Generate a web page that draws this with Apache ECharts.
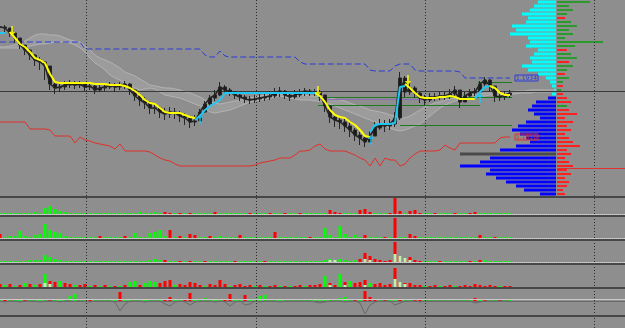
<!DOCTYPE html>
<html><head><meta charset="utf-8">
<script src="https://cdn.jsdelivr.net/npm/echarts@6/dist/echarts.min.js"></script>
<style>html,body{margin:0;padding:0;background:#8e8e8e;overflow:hidden}#c{width:625px;height:328px}</style>
</head><body><div id="c"></div><script>
// ---------- DATA (bar index = one time step) ----------
const close = [1.2036,1.2034,1.2024,1.2014,1.2000,1.1990,1.1980,1.1970,1.1966,1.1958,
 1.1922,1.1914,1.1916,1.1920,1.1922,1.1920,1.1922,1.1916,1.1918,1.1910,
 1.1914,1.1916,1.1920,1.1916,1.1918,1.1922,1.1910,1.1898,1.1890,1.1884,
 1.1874,1.1874,1.1866,1.1862,1.1866,1.1864,1.1858,1.1854,1.1846,1.1848,
 1.1866,1.1882,1.1894,1.1900,1.1916,1.1910,1.1906,1.1900,1.1896,1.1892,
 1.1890,1.1892,1.1894,1.1896,1.1898,1.1904,1.1908,1.1900,1.1896,1.1900,
 1.1904,1.1908,1.1906,1.1906,1.1900,1.1878,1.1856,1.1850,1.1846,1.1838,
 1.1830,1.1820,1.1814,1.1806,1.1818,1.1834,1.1840,1.1838,1.1842,1.1854,
 1.1934,1.1906,1.1914,1.1904,1.1894,1.1890,1.1896,1.1896,1.1898,1.1898,
 1.1902,1.1910,1.1886,1.1898,1.1904,1.1906,1.1922,1.1930,1.1918,1.1898,
 1.1896,1.1900,1.1904];
const high = [1.2044,1.2040,1.2034,1.2024,1.2012,1.2000,1.1992,1.1982,1.1976,1.1968,
 1.1940,1.1926,1.1926,1.1928,1.1930,1.1928,1.1928,1.1924,1.1924,1.1920,
 1.1922,1.1924,1.1926,1.1924,1.1926,1.1928,1.1924,1.1912,1.1902,1.1896,
 1.1888,1.1884,1.1878,1.1874,1.1876,1.1874,1.1868,1.1864,1.1858,1.1860,
 1.1872,1.1888,1.1900,1.1910,1.1926,1.1920,1.1914,1.1908,1.1904,1.1900,
 1.1898,1.1900,1.1902,1.1904,1.1908,1.1914,1.1916,1.1910,1.1904,1.1910,
 1.1912,1.1914,1.1912,1.1912,1.1910,1.1896,1.1874,1.1862,1.1858,1.1852,
 1.1846,1.1834,1.1826,1.1820,1.1828,1.1846,1.1852,1.1850,1.1852,1.1866,
 1.1946,1.1938,1.1926,1.1918,1.1906,1.1900,1.1904,1.1904,1.1906,1.1906,
 1.1912,1.1918,1.1904,1.1906,1.1912,1.1914,1.1928,1.1936,1.1932,1.1912,
 1.1906,1.1908,1.1910];
const low = [1.2028,1.2024,1.2016,1.2004,1.1992,1.1980,1.1970,1.1958,1.1950,1.1930,
 1.1910,1.1902,1.1906,1.1910,1.1914,1.1912,1.1914,1.1908,1.1910,1.1902,
 1.1906,1.1908,1.1912,1.1906,1.1910,1.1912,1.1900,1.1888,1.1878,1.1872,
 1.1862,1.1862,1.1854,1.1850,1.1854,1.1852,1.1846,1.1840,1.1834,1.1838,
 1.1850,1.1864,1.1878,1.1888,1.1898,1.1900,1.1898,1.1892,1.1888,1.1884,
 1.1882,1.1884,1.1886,1.1888,1.1890,1.1894,1.1896,1.1892,1.1888,1.1892,
 1.1896,1.1898,1.1898,1.1898,1.1888,1.1866,1.1844,1.1836,1.1832,1.1826,
 1.1816,1.1808,1.1800,1.1796,1.1806,1.1820,1.1830,1.1826,1.1830,1.1836,
 1.1850,1.1896,1.1900,1.1894,1.1884,1.1880,1.1886,1.1888,1.1890,1.1890,
 1.1892,1.1898,1.1874,1.1888,1.1896,1.1898,1.1904,1.1916,1.1906,1.1886,
 1.1888,1.1890,1.1894];
const trailUp = [1.2024,1.2024,null,null,null,null,null,null,null,null,
 null,null,null,null,null,null,null,null,null,null,
 null,null,null,null,null,null,null,null,null,null,
 null,null,null,null,null,null,null,null,null,1.1850,
 1.1858,1.1870,1.1878,1.1884,1.1890,1.1904,1.1904,1.1904,1.1904,1.1904,
 1.1904,1.1904,1.1904,1.1904,1.1904,1.1904,1.1904,1.1904,1.1904,1.1904,
 1.1904,1.1904,1.1904,1.1904,null,null,null,null,null,null,
 null,null,null,null,1.1826,1.1840,1.1842,1.1842,1.1842,1.1844,
 1.1916,1.1918,null,null,null,null,null,null,null,null,
 null,null,null,null,null,1.1892,1.1906,1.1916,1.1918,null,
 null,null,null];
const trailDn = [null,null,1.2026,1.2014,1.2002,1.1996,1.1986,1.1974,1.1970,1.1964,
 1.1942,1.1926,1.1924,1.1924,1.1924,1.1924,1.1924,1.1924,1.1924,1.1922,
 1.1922,1.1922,1.1920,1.1920,1.1920,1.1918,1.1914,1.1908,1.1900,1.1890,
 1.1884,1.1882,1.1874,1.1866,1.1864,1.1864,1.1864,1.1860,1.1856,1.1854,
 null,null,null,null,null,null,null,null,null,null,
 null,null,null,null,null,null,null,null,null,null,
 null,null,null,1.1904,1.1898,1.1886,1.1870,1.1860,1.1856,1.1854,
 1.1846,1.1840,1.1830,1.1818,1.1816,null,null,null,null,null,
 null,1.1922,1.1914,1.1904,1.1896,1.1894,1.1894,1.1894,1.1896,1.1896,
 1.1898,1.1896,1.1892,1.1892,1.1892,1.1892,null,null,1.1918,1.1914,
 1.1904,1.1900,1.1900];
const sellArrows = [[2.4,1.2028],[63.6,1.1908],[81.6,1.1930]];
const buyArrows  = [[40,1.1852],[74.2,1.1810],[96,1.1894]];
const upperBand = [1.2006,1.2006,1.2006,1.2006,1.2006,1.2006,1.2006,1.2006,1.2006,1.2006,
 1.2006,1.2006,1.2006,1.2006,1.2006,1.2006,1.2006,1.1992,1.1992,1.1992,
 1.1992,1.1992,1.1992,1.1992,1.1992,1.1992,1.1992,1.1992,1.1992,1.1992,
 1.1992,1.1992,1.1992,1.1992,1.1992,1.1992,1.1992,1.1992,1.1992,1.1992,
 1.1992,1.1980,1.1976,1.1976,1.1988,1.1978,1.1976,1.1976,1.1976,1.1976,
 1.1976,1.1976,1.1976,1.1976,1.1976,1.1976,1.1976,1.1976,1.1976,1.1976,
 1.1966,1.1962,1.1962,1.1962,1.1962,1.1962,1.1962,1.1962,1.1962,1.1962,
 1.1962,1.1962,1.1962,1.1962,1.1950,1.1948,1.1948,1.1948,1.1948,1.1958,
 1.1962,1.1962,1.1962,1.1950,1.1948,1.1948,1.1948,1.1948,1.1948,1.1948,
 1.1948,1.1948,1.1946,1.1934,1.1934,1.1934,1.1934,1.1934,1.1934,1.1934,
 1.1934,1.1934,1.1934];
const lowerBand = [1.1846,1.1846,1.1846,1.1846,1.1846,1.1846,1.1832,1.1832,1.1832,1.1832,
 1.1830,1.1818,1.1818,1.1818,1.1818,1.1804,1.1816,1.1810,1.1808,1.1804,
 1.1802,1.1800,1.1798,1.1792,1.1802,1.1788,1.1788,1.1788,1.1788,1.1788,
 1.1786,1.1780,1.1774,1.1770,1.1768,1.1762,1.1758,1.1758,1.1758,1.1758,
 1.1758,1.1758,1.1758,1.1758,1.1758,1.1758,1.1758,1.1758,1.1758,1.1758,
 1.1758,1.1760,1.1764,1.1766,1.1768,1.1770,1.1774,1.1774,1.1774,1.1780,
 1.1788,1.1788,1.1790,1.1798,1.1802,1.1792,1.1788,1.1788,1.1788,1.1788,
 1.1784,1.1780,1.1774,1.1770,1.1758,1.1774,1.1758,1.1774,1.1770,1.1770,
 1.1758,1.1762,1.1774,1.1782,1.1788,1.1788,1.1788,1.1788,1.1790,1.1800,
 1.1794,1.1790,1.1804,1.1804,1.1804,1.1804,1.1804,1.1804,1.1804,1.1804,
 1.1814,1.1816,1.1816];
const cloudHi = [1.1996,1.1996,1.1998,1.2000,1.2004,1.2008,1.2014,1.2020,1.2022,1.2022,
 1.2020,1.2020,1.2018,1.2014,1.2010,1.2008,1.2006,1.1998,1.1990,1.1980,
 1.1974,1.1970,1.1966,1.1960,1.1954,1.1946,1.1942,1.1938,1.1932,1.1926,
 1.1920,1.1918,1.1916,1.1914,1.1914,1.1912,1.1910,1.1906,1.1904,1.1900,
 1.1896,1.1890,1.1886,1.1884,1.1882,1.1884,1.1886,1.1888,1.1890,1.1892,
 1.1894,1.1896,1.1898,1.1900,1.1900,1.1902,1.1902,1.1902,1.1900,1.1900,
 1.1900,1.1900,1.1898,1.1898,1.1896,1.1896,1.1894,1.1892,1.1890,1.1888,
 1.1884,1.1880,1.1878,1.1874,1.1870,1.1868,1.1866,1.1864,1.1860,1.1858,
 1.1854,1.1854,1.1858,1.1864,1.1870,1.1876,1.1880,1.1884,1.1886,1.1890,
 1.1892,1.1894,1.1896,1.1898,1.1900,1.1902,1.1902,1.1904,1.1904,1.1906,
 1.1906,1.1906,1.1906,1.1908,1.1908,1.1908,1.1910,1.1910,1.1910,1.1910,
 1.1910,1.1910];
const cloudLo = [1.1994,1.1994,1.1994,1.1994,1.1994,1.1996,1.1998,1.2000,1.2002,1.2002,
 1.2004,1.2006,1.2006,1.2006,1.2004,1.2000,1.1994,1.1986,1.1974,1.1964,
 1.1958,1.1950,1.1940,1.1934,1.1930,1.1924,1.1920,1.1914,1.1910,1.1912,
 1.1914,1.1912,1.1906,1.1900,1.1898,1.1896,1.1894,1.1890,1.1886,1.1882,
 1.1878,1.1872,1.1866,1.1864,1.1866,1.1868,1.1870,1.1874,1.1878,1.1882,
 1.1886,1.1888,1.1890,1.1892,1.1894,1.1896,1.1898,1.1896,1.1894,1.1892,
 1.1890,1.1890,1.1890,1.1888,1.1888,1.1886,1.1882,1.1878,1.1874,1.1870,
 1.1866,1.1862,1.1858,1.1854,1.1850,1.1846,1.1842,1.1838,1.1834,1.1830,
 1.1828,1.1830,1.1834,1.1838,1.1842,1.1850,1.1858,1.1866,1.1874,1.1880,
 1.1884,1.1888,1.1890,1.1892,1.1894,1.1896,1.1898,1.1898,1.1900,1.1900,
 1.1900,1.1902,1.1902,1.1902,1.1904,1.1904,1.1904,1.1906,1.1906,1.1906,
 1.1906,1.1908];
const lastPrice = 1.1908;
const sessionBreaks = [17.2, 51.2, 85.0, 118.8];
// level segments: [price, fromIndex, toIndex]
const greenLevels  = [[1.1896,63.6,102.4],[1.1880,63.6,96],[1.1840,80,102.4],[1.1926,95.6,102.4]];
const purpleLevels = [[1.1892,64,86]];
const salmonLevels = [[1.1906,46,63]];
const redLevels    = [[1.1754,111.4,125]];
// volume profile
const profLevels = ['1.2086','1.2078','1.2070','1.2062','1.2054','1.2046','1.2038','1.2030','1.2022','1.2014',
 '1.2006','1.1998','1.1990','1.1982','1.1974','1.1966','1.1958','1.1950','1.1942','1.1934',
 '1.1926','1.1918','1.1910','1.1902','1.1894','1.1886','1.1878','1.1870','1.1862','1.1854',
 '1.1846','1.1838','1.1830','1.1822','1.1814','1.1806','1.1798','1.1790','1.1782','1.1774',
 '1.1766','1.1758','1.1750','1.1742','1.1734','1.1726','1.1718','1.1710','1.1702'];
const profVol = [18,22,26,34,28,30,44,40,46,28, 26,30,18,22,26,24,34,28,18,10,
 6,4,2,4,8,20,24,28,22,16, 30,38,44,36,30,26,40,56,96,66,
 76,96,66,70,60,50,40,32,16];
const profBuy = [33,12,16,10,0,14,20,12,16,8, 46,18,0,14,20,0,16,10,0,12,
 6,0,4,0,0,0,10,0,0,0, 0,0,0,0,0,0,0,0,0,0, 0,0,0,0,0,0,0,0,0];
const profSell = [0,0,0,0,8,0,0,0,0,0, 0,0,10,0,0,12,0,0,8,0,
 0,6,0,6,10,14,0,12,20,8, 16,10,14,8,12,16,23,10,14,8,
 12,16,10,14,8,12,10,6,8];
// sub-window histograms (positive = up/green, negative = down/red)
const vol1 = [1,1,1,1,1,1,1,2,1,6, 8,5,3,2,1,1,1,1,1,1, 1,1,1,1,1,1,1,1,2,1,
 1,2,1,-2,-1,1,-1,1,-1,1, 1,1,1,-2,1,1,1,1,1,1, -1,1,1,1,-1,1,1,-1,1,1,
 -1,1,1,1,1,1,-4,-2,-1,1, 1,1,-4,-5,-2,1,1,1,-1,-17, -3,1,-3,-4,-1,1,1,-1,1,1,
 1,-1,1,1,-1,-2,1,1,1,1, 1,1,1];
const vol2 = [-4,1,2,2,7,2,1,3,4,14, 8,6,5,2,1,1,1,1,1,1, -2,1,1,1,1,-2,1,5,1,1,
 5,6,8,2,-8,1,-2,1,-4,-3, 1,1,-2,1,2,1,1,1,-3,1, 1,1,1,1,1,-6,1,1,1,1,
 1,1,-1,1,1,10,3,1,12,4, 1,3,1,-3,1,1,1,-1,1,-20, 1,1,-4,-2,1,1,1,1,1,1,
 1,1,1,1,1,1,-3,1,1,-1, 1,1,1];
const vol3 = [1,1,1,1,1,1,2,2,2,7, 5,3,2,1,1,1,1,1,1,1, 1,1,1,1,1,1,1,1,1,1,
 2,3,2,-2,1,1,-1,1,-1,1, 1,-1,1,1,1,1,1,-1,1,1, 1,1,1,-1,1,1,1,1,1,1,
 1,1,1,1,1,2,3,2,3,2, 1,2,-3,-9,-6,-3,-2,-1,-2,-20, -6,-3,-5,-2,-1,1,1,1,-1,1,
 1,1,1,1,-1,1,-2,2,1,1, 1,1,1];
const vol3Pale = [[66,2],[67,2],[73,3],[74,2],[79,8],[80,6],[81,4],[82,2]];
const vol4 = [-3,2,-3,1,-2,4,-3,2,-3,13, -6,-5,6,-4,-3,2,-2,-3,1,-2, 1,-2,1,-1,1,-2,5,6,-2,4,
 6,5,-4,-6,-7,2,-3,-2,-5,-4, -2,1,-3,-2,-7,-3,1,-2,-3,-1, -2,1,-2,1,-1,-2,1,-1,1,-1,
 -2,1,-2,-2,-3,11,-4,-2,13,-5, 6,-4,-5,-7,4,-3,-4,-2,-3,-19, -5,-4,-4,-2,-2,1,-1,-2,1,-1,
 -2,1,-1,-2,-1,-3,-2,-1,-2,-1, 1,-1,-1];
const vol4Pale = [[9,4],[10,3],[66,2],[69,2],[73,2],[79,8],[80,5],[81,3]];
const osc5Bars = [1,-1,1,1,1,-1,1,1,1,1, -1,1,1,1,5,7,2,1,-1,1, 1,1,1,1,-9,1,1,1,1,1,
 1,1,1,-2,-4,1,1,-2,-8,1, 1,3,1,1,1,-2,-7,1,1,-6, 2,1,5,6,1,1,1,1,1,1,
 1,1,1,1,1,1,1,1,3,4, 1,-2,1,-10,-4,-2,1,-1,1,1, -2,1,1,-1,-2,1,1,1,1,1,
 1,1,1,1,1,-3,1,-2,1,1, -1,1,1];
const osc5Line = [0,-1,0,0,-1,0,0,0,-1,0, 0,0,-1,0,1,2,0,0,-1,0, 0,0,0,-1,-10,-3,0,0,0,-1,
 0,0,0,-3,-5,-1,0,-1,-4,-1, 0,0,0,-1,0,-1,-5,-1,0,-4, -3,0,-1,0,0,0,-1,0,0,0,
 0,0,0,-1,-2,-1,0,0,0,-1, 0,0,-2,-13,-4,-1,0,0,0,-4, -2,0,0,0,-1,0,0,0,0,0,
 0,0,0,0,0,-2,-1,0,0,0, 0,0,0];
const osc5Level = 2;

// ---------- LAYOUT / STYLE ----------
const XMAX = 125;
const GREEN = '#00ff00', RED = '#ff0000';
const pairs = a => a.map((v,i)=>[i,v]);
const signed = a => a.map((v,i)=>({value:[i,Math.abs(v)], itemStyle:{color: v>=0?GREEN:RED}}));
const seg = (lv)=>lv.map(l=>[{coord:[l[1],l[0]]},{coord:[l[2],l[0]]}]);
const hide = {axisLine:{show:false},axisTick:{show:false},axisLabel:{show:false},splitLine:{show:false}};
const panels = [
  {top:198,height:16,min:0,max:16},
  {top:217,height:21,min:0,max:21},
  {top:241,height:21,min:0,max:21},
  {top:265,height:22,min:0,max:22},
  {top:290,height:25,min:-14,max:11}
];
const separators = [196,215,239,263,287,315];

const grids = [
  {left:0,right:0,top:0,bottom:0},
  {left:0,right:0,top:0,height:195},
  {left:400,width:156,top:0,height:196},
  {left:557,width:68,top:0,height:196}
].concat(panels.map(p=>({left:0,right:0,top:p.top,height:p.height})));

const xAxes = [
  Object.assign({type:'value',gridIndex:0,min:0,max:XMAX},hide),
  Object.assign({type:'value',gridIndex:1,min:0,max:XMAX},hide),
  Object.assign({type:'value',gridIndex:2,min:0,max:156,inverse:true},hide),
  Object.assign({type:'value',gridIndex:3,min:0,max:68},hide)
].concat(panels.map((p,k)=>Object.assign({type:'value',gridIndex:4+k,min:0,max:XMAX},hide,
  {axisLine:{show:true,onZero:true,lineStyle:{color:k<4?'#d2d2d2':'#6c6c6c',type:k<4?[1,1]:'solid',width:1}}})));
const yAxes = [
  Object.assign({type:'value',gridIndex:0,min:0,max:1},hide),
  Object.assign({type:'value',gridIndex:1,min:1.1700,max:1.2090},hide),
  Object.assign({type:'category',gridIndex:2,data:profLevels,inverse:true},hide),
  Object.assign({type:'category',gridIndex:3,data:profLevels,inverse:true},hide)
].concat(panels.map((p,k)=>Object.assign({type:'value',gridIndex:4+k,min:p.min,max:p.max},hide)));

const M = (extra)=>Object.assign({xAxisIndex:1,yAxisIndex:1,symbol:'none',animation:false,silent:true},extra);
const lvlLine = (lv,color)=>({silent:true,symbol:['none','none'],label:{show:false},animation:false,
  lineStyle:{color:color,width:1,type:'solid'},data:seg(lv)});
// OHLC: each bar opens at the previous bar's close
const ohlc = close.map((c,i)=>[i, i?close[i-1]:c, c, low[i], high[i]]);

const series = [
  // vertical session separators (full height)
  {type:'line',xAxisIndex:0,yAxisIndex:0,data:[],silent:true,animation:false,
   markLine:{silent:true,symbol:['none','none'],label:{show:false},animation:false,
     lineStyle:{color:'#2c2c2c',type:[1,2],width:1},data:sessionBreaks.map(x=>({xAxis:x}))}},
  // cloud fill (polygon between the two spans, through the axis scales)
  {type:'custom',xAxisIndex:1,yAxisIndex:1,silent:true,animation:false,z:1,clip:true,
   data:[[0,cloudHi[0]]],
   renderItem:(params,api)=>{
     const pts=[];
     cloudHi.forEach((v,i)=>pts.push(api.coord([i,v])));
     for(let i=cloudLo.length-1;i>=0;i--) pts.push(api.coord([i,cloudLo[i]]));
     return {type:'polygon',shape:{points:pts},style:{fill:'#9c9c9c',stroke:null}};
   }},
  M({type:'line',data:pairs(cloudHi),lineStyle:{color:'#b2b2b2',width:1},z:2}),
  M({type:'line',data:pairs(cloudLo),lineStyle:{color:'#b2b2b2',width:1},z:2}),
  // horizontal levels
  M({type:'line',data:[],z:3,markLine:lvlLine([[lastPrice,0,XMAX]],'#3a3a3a')}),
  M({type:'line',data:[],z:3,markLine:lvlLine(greenLevels,'#1f7a1f')}),
  M({type:'line',data:[],z:3,markLine:lvlLine(purpleLevels,'#8a6fb8')}),
  M({type:'line',data:[],z:3,markLine:lvlLine(salmonLevels,'#d08070')}),
  M({type:'line',data:[],z:3,markLine:lvlLine(redLevels,'#e03030')}),
  // bands
  M({type:'line',data:pairs(upperBand),z:4,lineStyle:{color:'#2b3bdc',width:1,type:[6,3]},
     endLabel:{show:true,formatter:p=>p.value[1].toFixed(4),color:'#2b3bdc',fontSize:6,fontFamily:'DejaVu Sans',
       borderColor:'#2b3bdc',borderWidth:1,padding:[0,1],distance:5}}),
  M({type:'line',data:pairs(lowerBand),z:4,lineStyle:{color:'#e0302a',width:1},
     endLabel:{show:true,formatter:p=>p.value[1].toFixed(4),color:'#e0302a',fontSize:6,fontFamily:'DejaVu Sans',
       borderColor:'#e0302a',borderWidth:1,padding:[0,1],distance:5}}),
  // price
  M({type:'line',data:pairs(close),z:5,lineStyle:{color:'#222222',width:1.5}}),
  {type:'candlestick',xAxisIndex:1,yAxisIndex:1,animation:false,silent:true,z:5,barWidth:3,
   encode:{x:0,y:[1,2,3,4]},data:ohlc,
   itemStyle:{color:'#1a1a1a',color0:'#1a1a1a',borderColor:'#262626',borderColor0:'#262626',borderWidth:1}},
  // trailing stop
  M({type:'line',data:pairs(trailDn),z:6,connectNulls:false,lineStyle:{color:'#ffff00',width:2}}),
  M({type:'line',data:pairs(trailUp),z:6,connectNulls:false,lineStyle:{color:'#1ec8f4',width:2}}),
  M({type:'scatter',data:sellArrows,z:7,symbol:'path://M3,0L5,0L5,6L8,6L4,10L0,6L3,6Z',symbolSize:[7,10],itemStyle:{color:'#ffff00'}}),
  M({type:'scatter',data:buyArrows,z:7,symbol:'path://M3,10L5,10L5,4L8,4L4,0L0,4L3,4Z',symbolSize:[7,10],itemStyle:{color:'#1ec8f4'}}),
  // volume profile
  {type:'bar',xAxisIndex:2,yAxisIndex:2,barWidth:3,animation:false,silent:true,
   data:profVol.map((v,k)=>({value:v,itemStyle:{color:k<24?'#00ffff':(k===38?'#4a4a4a':'#0000ff')}}))},
  {type:'bar',xAxisIndex:3,yAxisIndex:3,barWidth:2,stack:'pr',animation:false,silent:true,data:profBuy,itemStyle:{color:'#2a9a2a'}},
  {type:'bar',xAxisIndex:3,yAxisIndex:3,barWidth:2,stack:'pr',animation:false,silent:true,data:profSell,itemStyle:{color:'#ff2020'}},
  // sub windows
  {type:'bar',xAxisIndex:4,yAxisIndex:4,barWidth:3,animation:false,silent:true,data:signed(vol1)},
  {type:'bar',xAxisIndex:5,yAxisIndex:5,barWidth:3,animation:false,silent:true,data:signed(vol2)},
  {type:'bar',xAxisIndex:6,yAxisIndex:6,barWidth:3,animation:false,silent:true,data:signed(vol3)},
  {type:'bar',xAxisIndex:6,yAxisIndex:6,barWidth:3,barGap:'-100%',animation:false,silent:true,data:vol3Pale,itemStyle:{color:'#bdf2b0'},z:3},
  {type:'bar',xAxisIndex:7,yAxisIndex:7,barWidth:3,animation:false,silent:true,data:signed(vol4)},
  {type:'bar',xAxisIndex:7,yAxisIndex:7,barWidth:3,barGap:'-100%',animation:false,silent:true,data:vol4Pale,itemStyle:{color:'#bdf2b0'},z:3},
  {type:'bar',xAxisIndex:8,yAxisIndex:8,barWidth:3,animation:false,silent:true,data:signed(osc5Bars),
   markLine:{silent:true,symbol:['none','none'],label:{show:false},animation:false,
     lineStyle:{color:'#cacaca',width:1,type:'solid'},data:[{yAxis:osc5Level}]}},
  {type:'line',xAxisIndex:8,yAxisIndex:8,symbol:'none',animation:false,silent:true,data:pairs(osc5Line),lineStyle:{color:'#6a6a6a',width:1}}
];

const chart = echarts.init(document.getElementById('c'),null,{renderer:'canvas'});
chart.setOption({
  backgroundColor:'#8e8e8e',
  animation:false,
  grid:grids, xAxis:xAxes, yAxis:yAxes, series:series,
  graphic:separators.map(y=>({type:'rect',shape:{x:0,y:y,width:625,height:2},style:{fill:'#474747'},z:100,silent:true}))
});
</script></body></html>
